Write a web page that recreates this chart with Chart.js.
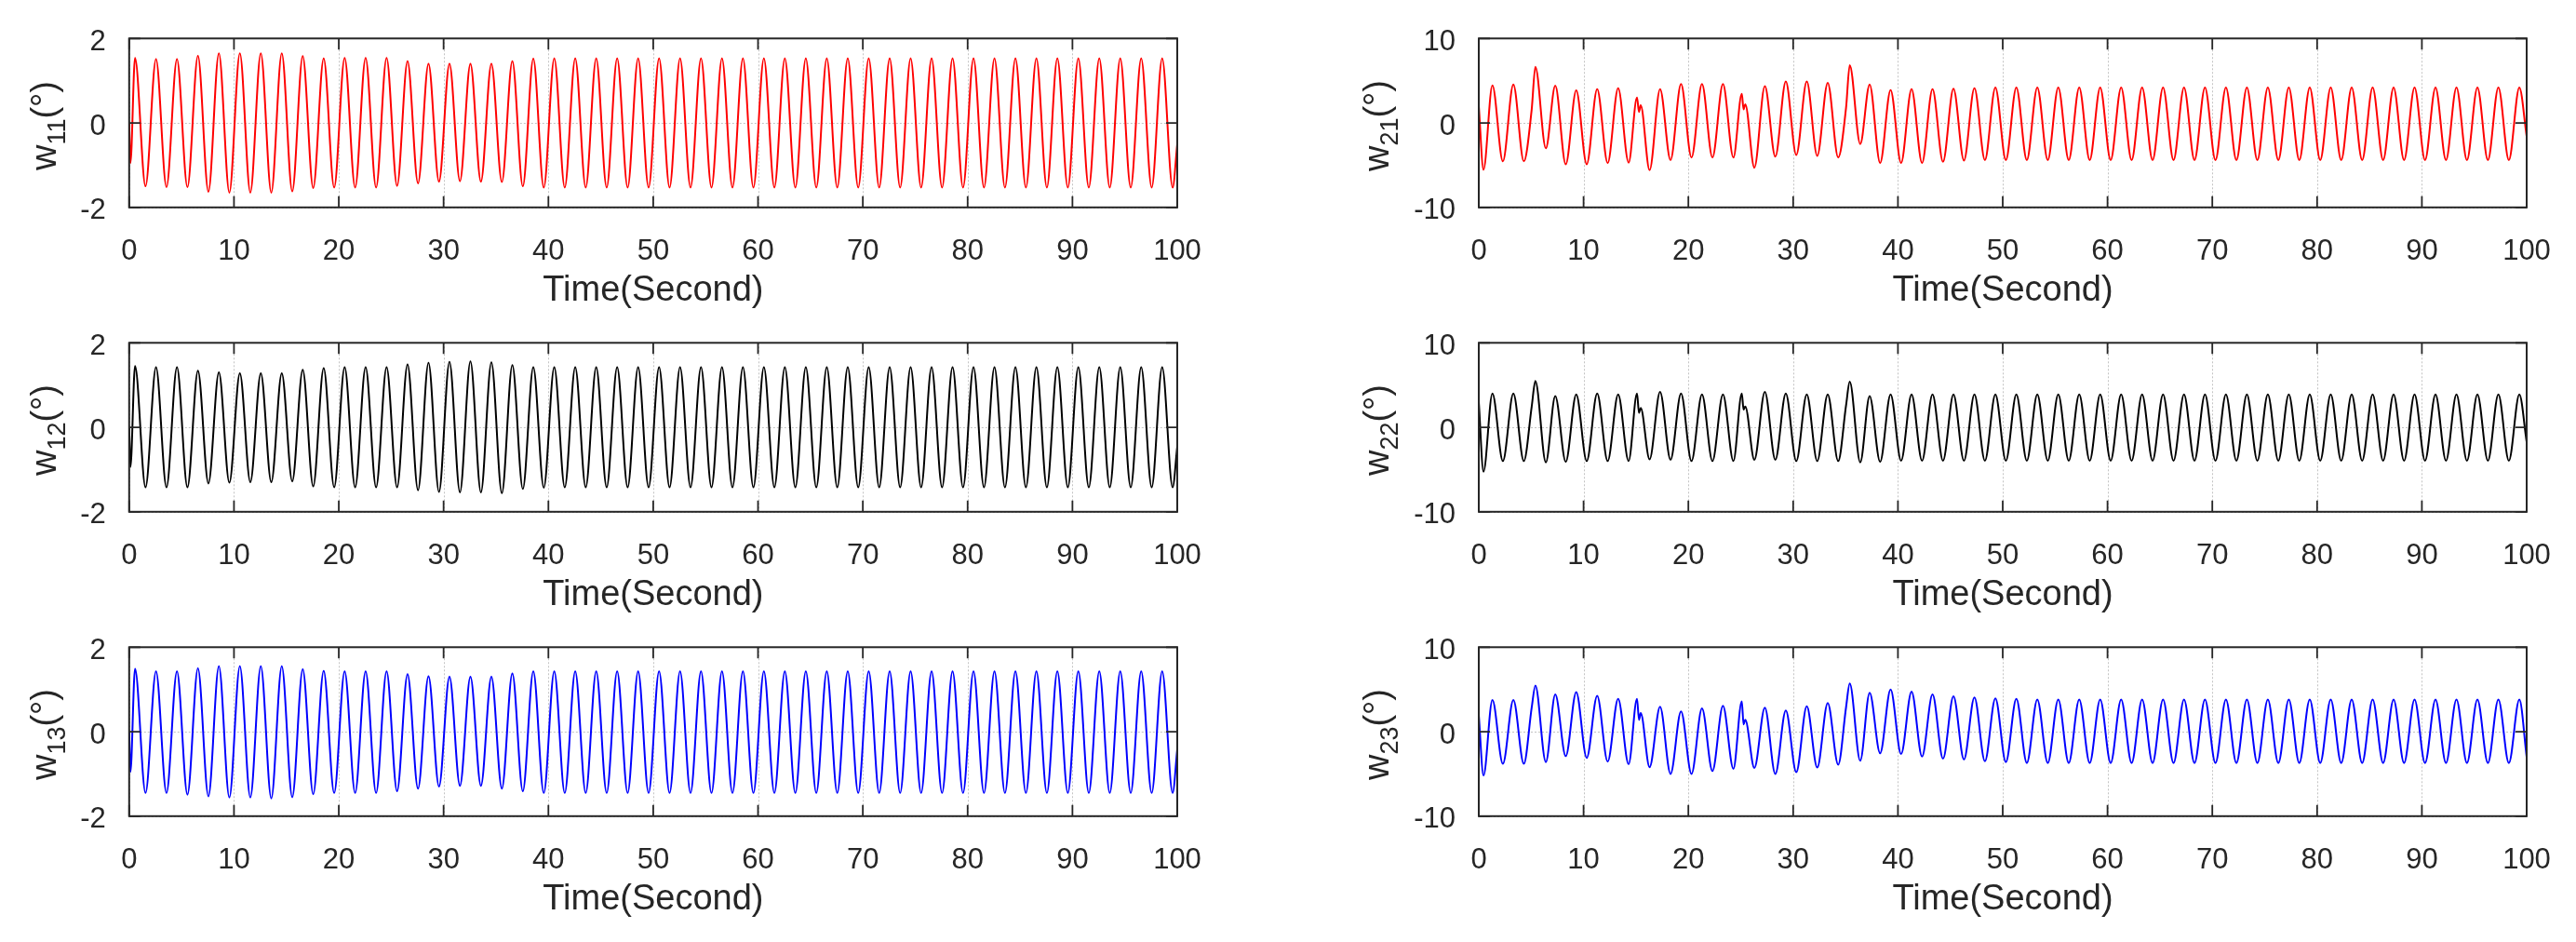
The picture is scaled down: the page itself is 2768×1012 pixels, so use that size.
<!DOCTYPE html>
<html>
<head>
<meta charset="utf-8">
<script src="https://cdn.jsdelivr.net/npm/chart.js@4.4.1/dist/chart.umd.min.js"></script>
<style>
html, body { margin: 0; padding: 0; background: #fff; overflow: hidden; }
body { width: 2768px; height: 1012px; position: relative; }
canvas { position: absolute; }
</style>
</head>
<body>
<canvas id="c11" width="1330" height="356" style="left:0px;top:0px"></canvas>
<canvas id="c12" width="1330" height="356" style="left:0px;top:327px"></canvas>
<canvas id="c13" width="1330" height="356" style="left:0px;top:654px"></canvas>
<canvas id="c21" width="1368" height="356" style="left:1400px;top:0px"></canvas>
<canvas id="c22" width="1368" height="356" style="left:1400px;top:327px"></canvas>
<canvas id="c23" width="1368" height="356" style="left:1400px;top:654px"></canvas>
<script>
// extremum times (s), left column: start, dip, then peak/trough pairs
const leftTime = [0, 0.12,
    0.56, 1.56, 2.56, 3.56, 4.56, 5.56, 6.56, 7.56, 8.56, 9.56,
    10.56, 11.56, 12.56, 13.56, 14.56, 15.56, 16.56, 17.56, 18.56, 19.56,
    20.56, 21.56, 22.56, 23.56, 24.56, 25.56, 26.56, 27.56, 28.56, 29.56,
    30.56, 31.56, 32.56, 33.56, 34.56, 35.56, 36.56, 37.56, 38.56, 39.56,
    40.56, 41.56, 42.56, 43.56, 44.56, 45.56, 46.56, 47.56, 48.56, 49.56,
    50.56, 51.56, 52.56, 53.56, 54.56, 55.56, 56.56, 57.56, 58.56, 59.56,
    60.56, 61.56, 62.56, 63.56, 64.56, 65.56, 66.56, 67.56, 68.56, 69.56,
    70.56, 71.56, 72.56, 73.56, 74.56, 75.56, 76.56, 77.56, 78.56, 79.56,
    80.56, 81.56, 82.56, 83.56, 84.56, 85.56, 86.56, 87.56, 88.56, 89.56,
    90.56, 91.56, 92.56, 93.56, 94.56, 95.56, 96.56, 97.56, 98.56, 99.56,
    100];

const w11 = [0, -0.95,
    1.54, -1.50, 1.51, -1.52, 1.51, -1.52, 1.59, -1.63, 1.65, -1.65,
    1.65, -1.65, 1.65, -1.65, 1.65, -1.62, 1.58, -1.54, 1.53, -1.53,
    1.54, -1.53, 1.54, -1.53, 1.54, -1.49, 1.46, -1.43, 1.40, -1.39,
    1.40, -1.38, 1.40, -1.39, 1.40, -1.40, 1.46, -1.50, 1.52, -1.53,
    1.53, -1.53, 1.53, -1.53, 1.53, -1.53, 1.53, -1.53, 1.53, -1.53,
    1.53, -1.53, 1.53, -1.53, 1.53, -1.53, 1.53, -1.53, 1.53, -1.53,
    1.53, -1.53, 1.53, -1.53, 1.53, -1.53, 1.53, -1.53, 1.53, -1.53,
    1.53, -1.53, 1.53, -1.53, 1.53, -1.53, 1.53, -1.53, 1.53, -1.53,
    1.53, -1.53, 1.53, -1.53, 1.53, -1.53, 1.53, -1.53, 1.53, -1.53,
    1.53, -1.53, 1.53, -1.53, 1.53, -1.53, 1.53, -1.53, 1.53, -1.53,
    -0.50];

const w12 = [0, -0.94,
    1.45, -1.42, 1.42, -1.42, 1.42, -1.42, 1.34, -1.33, 1.30, -1.31,
    1.28, -1.30, 1.28, -1.30, 1.28, -1.28, 1.36, -1.40, 1.40, -1.42,
    1.42, -1.42, 1.42, -1.42, 1.42, -1.42, 1.49, -1.49, 1.53, -1.53,
    1.55, -1.54, 1.56, -1.54, 1.54, -1.56, 1.47, -1.46, 1.42, -1.43,
    1.42, -1.42, 1.42, -1.42, 1.42, -1.42, 1.42, -1.42, 1.42, -1.42,
    1.42, -1.42, 1.42, -1.42, 1.42, -1.42, 1.42, -1.42, 1.42, -1.42,
    1.42, -1.42, 1.42, -1.42, 1.42, -1.42, 1.42, -1.42, 1.42, -1.42,
    1.42, -1.42, 1.42, -1.42, 1.42, -1.42, 1.42, -1.42, 1.42, -1.42,
    1.42, -1.42, 1.42, -1.42, 1.42, -1.42, 1.42, -1.42, 1.42, -1.42,
    1.42, -1.42, 1.42, -1.42, 1.42, -1.42, 1.42, -1.42, 1.42, -1.42,
    -0.46];

const w13 = [0, -0.95,
    1.49, -1.45, 1.43, -1.45, 1.43, -1.49, 1.50, -1.53, 1.55, -1.56,
    1.55, -1.56, 1.55, -1.58, 1.55, -1.55, 1.48, -1.48, 1.44, -1.45,
    1.43, -1.45, 1.43, -1.45, 1.43, -1.41, 1.36, -1.35, 1.31, -1.30,
    1.30, -1.28, 1.30, -1.28, 1.30, -1.35, 1.38, -1.41, 1.43, -1.45,
    1.43, -1.45, 1.43, -1.45, 1.43, -1.45, 1.43, -1.45, 1.43, -1.45,
    1.43, -1.45, 1.43, -1.45, 1.43, -1.45, 1.43, -1.45, 1.43, -1.45,
    1.43, -1.45, 1.43, -1.45, 1.43, -1.45, 1.43, -1.45, 1.43, -1.45,
    1.43, -1.45, 1.43, -1.45, 1.43, -1.45, 1.43, -1.45, 1.43, -1.45,
    1.43, -1.45, 1.43, -1.45, 1.43, -1.45, 1.43, -1.45, 1.43, -1.45,
    1.43, -1.45, 1.43, -1.45, 1.43, -1.45, 1.43, -1.45, 1.43, -1.45,
    -0.42];

// extremum times (s), right column, with the kinks near 5, 15, 25, 35 s
const rightTime = [
    0, 0.45, 1.3, 2.3, 3.3, 4.3, 5.05, 5.4, 6.4, 7.3, 8.3, 9.3,
    10.3, 11.3, 12.3, 13.3, 14.3, 15.1, 15.29, 15.45, 16.3, 17.3, 18.3, 19.3,
    20.3, 21.3, 22.3, 23.3, 24.3, 25.1, 25.27, 25.43, 26.3, 27.3, 28.3, 29.3,
    30.3, 31.3, 32.3, 33.3, 34.3, 35.05, 35.4, 36.4, 37.3, 38.3, 39.3,
    40.3, 41.3, 42.3, 43.3, 44.3, 45.3, 46.3, 47.3, 48.3, 49.3,
    50.3, 51.3, 52.3, 53.3, 54.3, 55.3, 56.3, 57.3, 58.3, 59.3,
    60.3, 61.3, 62.3, 63.3, 64.3, 65.3, 66.3, 67.3, 68.3, 69.3,
    70.3, 71.3, 72.3, 73.3, 74.3, 75.3, 76.3, 77.3, 78.3, 79.3,
    80.3, 81.3, 82.3, 83.3, 84.3, 85.3, 86.3, 87.3, 88.3, 89.3,
    90.3, 91.3, 92.3, 93.3, 94.3, 95.3, 96.3, 97.3, 98.3, 99.3,
    100];

const w21 = [
    2.0, -5.55, 4.45, -4.55, 4.55, -4.55, 1.6, 6.65, -3.0, 4.4, -4.9, 3.85,
    -4.9, 4.0, -4.75, 4.1, -4.7, 3.0, 1.3, 2.1, -5.6, 4.0, -4.4, 4.6,
    -4.1, 4.6, -4.1, 4.6, -4.1, 3.45, 1.6, 2.2, -5.3, 4.35, -4.0, 4.9,
    -3.8, 4.9, -3.9, 4.75, -4.1, 1.8, 6.85, -2.5, 4.55, -4.75, 3.9,
    -4.75, 4.0, -4.75, 4.0, -4.6, 4.05, -4.45, 4.1, -4.4, 4.2,
    -4.4, 4.2, -4.4, 4.2, -4.4, 4.2, -4.4, 4.2, -4.4, 4.2,
    -4.4, 4.2, -4.4, 4.2, -4.4, 4.2, -4.4, 4.2, -4.4, 4.2,
    -4.4, 4.2, -4.4, 4.2, -4.4, 4.2, -4.4, 4.2, -4.4, 4.2,
    -4.4, 4.2, -4.4, 4.2, -4.4, 4.2, -4.4, 4.2, -4.4, 4.2,
    -4.4, 4.2, -4.4, 4.2, -4.4, 4.2, -4.4, 4.2, -4.4, 4.2,
    -1.6];

const w22 = [
    3.0, -5.25, 4.0, -4.0, 4.0, -4.0, 2.45, 5.5, -4.15, 3.7, -4.1, 3.9,
    -4.0, 4.0, -4.0, 3.9, -4.0, 4.0, 1.7, 2.3, -3.8, 4.2, -3.85, 4.0,
    -4.0, 3.9, -4.0, 3.9, -4.0, 4.0, 2.1, 2.45, -3.85, 4.2, -3.85, 4.0,
    -4.0, 3.9, -4.0, 3.9, -4.0, 2.6, 5.4, -4.15, 3.7, -4.1, 3.9,
    -3.95, 3.9, -3.95, 3.9, -3.95, 3.9, -3.95, 3.9, -3.95, 3.9,
    -3.95, 3.9, -3.95, 3.9, -3.95, 3.9, -3.95, 3.9, -3.95, 3.9,
    -3.95, 3.9, -3.95, 3.9, -3.95, 3.9, -3.95, 3.9, -3.95, 3.9,
    -3.95, 3.9, -3.95, 3.9, -3.95, 3.9, -3.95, 3.9, -3.95, 3.9,
    -3.95, 3.9, -3.95, 3.9, -3.95, 3.9, -3.95, 3.9, -3.95, 3.9,
    -3.95, 3.9, -3.95, 3.9, -3.95, 3.9, -3.95, 3.9, -3.95, 3.9,
    -1.75];

const w23 = [
    1.95, -5.2, 3.75, -3.8, 3.75, -3.8, 2.85, 5.45, -3.6, 4.4, -2.9, 4.7,
    -3.1, 4.25, -3.55, 3.9, -3.85, 3.9, 1.4, 2.2, -4.2, 2.95, -5.0, 2.4,
    -5.0, 2.75, -4.65, 3.05, -4.4, 3.6, 0.85, 1.4, -4.3, 2.85, -5.0, 2.5,
    -4.8, 3.0, -4.25, 3.4, -3.9, 2.9, 5.7, -3.45, 4.6, -2.55, 5.0,
    -2.65, 4.75, -2.95, 4.4, -3.2, 4.2, -3.3, 4.05, -3.5, 3.95,
    -3.6, 3.9, -3.7, 3.8, -3.7, 3.8, -3.7, 3.8, -3.7, 3.8,
    -3.7, 3.8, -3.7, 3.8, -3.7, 3.8, -3.7, 3.8, -3.7, 3.8,
    -3.7, 3.8, -3.7, 3.8, -3.7, 3.8, -3.7, 3.8, -3.7, 3.8,
    -3.7, 3.8, -3.7, 3.8, -3.7, 3.8, -3.7, 3.8, -3.7, 3.8,
    -3.7, 3.8, -3.7, 3.8, -3.7, 3.8, -3.7, 3.8, -3.7, 3.8,
    -3.0];

const xTitle = "Time(Second)";
const FONT = '"Liberation Sans", Arial, Helvetica, sans-serif';
const TXT = "#262626";

function toPoints(times, values) {
    if (times.length !== values.length) console.error("length mismatch", times.length, values.length);
    return times.map((t, i) => ({ x: t, y: values[i] }));
}

// MATLAB-like box: dotted grid, frame and inward ticks on all four sides
const framePlugin = {
    id: "frame",
    beforeDatasetsDraw(chart) {
        const { ctx, chartArea: a, scales: { x, y } } = chart;
        ctx.save();
        ctx.strokeStyle = "rgba(38,38,38,0.28)";
        ctx.lineWidth = 1;
        ctx.setLineDash([2, 2]);
        ctx.beginPath();
        x.ticks.forEach((t) => {
            const px = Math.round(x.getPixelForValue(t.value)) + 0.5;
            ctx.moveTo(px, a.top);
            ctx.lineTo(px, a.bottom);
        });
        y.ticks.forEach((t) => {
            const py = Math.round(y.getPixelForValue(t.value)) + 0.5;
            ctx.moveTo(a.left, py);
            ctx.lineTo(a.right, py);
        });
        ctx.stroke();
        ctx.restore();
    },
    afterDatasetsDraw(chart) {
        const { ctx, chartArea: a, scales: { x, y } } = chart;
        const len = 12;
        ctx.save();
        ctx.strokeStyle = TXT;
        ctx.lineWidth = 1.8;
        ctx.beginPath();
        x.ticks.forEach((t) => {
            const px = x.getPixelForValue(t.value);
            ctx.moveTo(px, a.bottom);
            ctx.lineTo(px, a.bottom - len);
            ctx.moveTo(px, a.top);
            ctx.lineTo(px, a.top + len);
        });
        y.ticks.forEach((t) => {
            const py = y.getPixelForValue(t.value);
            ctx.moveTo(a.left, py);
            ctx.lineTo(a.left + len, py);
            ctx.moveTo(a.right, py);
            ctx.lineTo(a.right - len, py);
        });
        ctx.stroke();
        ctx.lineWidth = 2;
        ctx.strokeRect(a.left, a.top, a.width, a.height);
        ctx.restore();
    },
};

// rotated y title with subscript, e.g. w_11(°)
const yLabelPlugin = {
    id: "yLabel",
    afterDraw(chart, args, opts) {
        const { ctx, chartArea: a } = chart;
        const big = 38, small = 27;
        ctx.save();
        ctx.fillStyle = TXT;
        ctx.translate(a.left - opts.gap, (a.top + a.bottom) / 2 + 3);
        ctx.rotate(-Math.PI / 2);
        ctx.textBaseline = "alphabetic";
        ctx.font = big + "px " + FONT;
        const w1 = ctx.measureText(opts.base).width;
        const w3 = ctx.measureText("(°)").width;
        ctx.font = small + "px " + FONT;
        const w2 = ctx.measureText(opts.sub).width;
        let x = -(w1 + w2 + w3) / 2;
        ctx.font = big + "px " + FONT;
        ctx.fillText(opts.base, x, 0);
        x += w1;
        ctx.font = small + "px " + FONT;
        ctx.fillText(opts.sub, x, 10);
        x += w2;
        ctx.font = big + "px " + FONT;
        ctx.fillText("(°)", x, 0);
        ctx.restore();
    },
};

function makeChart(id, times, values, color, yLim, yStep, sub, col) {
    const yWidth = col === 0 ? 138.8 : 189;
    const padRight = col === 0 ? 65 : 53;
    const gap = col === 0 ? 79 : 97;
    return new Chart(document.getElementById(id), {
        type: "line",
        data: {
            datasets: [{
                data: toPoints(times, values),
                borderColor: color,
                borderWidth: 2,
                pointRadius: 0,
                fill: false,
                cubicInterpolationMode: "monotone",
            }],
        },
        options: {
            responsive: false,
            animation: false,
            devicePixelRatio: 1,
            layout: { padding: { top: 41.3, right: padRight, left: 0, bottom: 0 } },
            plugins: {
                legend: { display: false },
                tooltip: { enabled: false },
                yLabel: { base: "w", sub: sub, gap: gap },
            },
            scales: {
                x: {
                    type: "linear",
                    min: 0,
                    max: 100,
                    grid: { display: false },
                    border: { display: false },
                    ticks: {
                        stepSize: 10,
                        padding: 21,
                        maxRotation: 0,
                        autoSkip: false,
                        color: TXT,
                        font: { family: FONT, size: 31 },
                    },
                    title: {
                        display: true,
                        text: xTitle,
                        color: TXT,
                        font: { family: FONT, size: 38 },
                        padding: { top: 0, bottom: 20.8 },
                    },
                    afterFit: (s) => { s.height = 133.2; },
                },
                y: {
                    min: -yLim,
                    max: yLim,
                    grid: { display: false },
                    border: { display: false },
                    ticks: {
                        stepSize: yStep,
                        padding: 17,
                        labelOffset: 4,
                        color: TXT,
                        font: { family: FONT, size: 31 },
                    },
                    afterFit: (s) => { s.width = yWidth; },
                },
            },
        },
        plugins: [framePlugin, yLabelPlugin],
    });
}

makeChart("c11", leftTime, w11, "#ff0000", 2, 2, "11", 0);
makeChart("c12", leftTime, w12, "#000000", 2, 2, "12", 0);
makeChart("c13", leftTime, w13, "#0000ff", 2, 2, "13", 0);
makeChart("c21", rightTime, w21, "#ff0000", 10, 10, "21", 1);
makeChart("c22", rightTime, w22, "#000000", 10, 10, "22", 1);
makeChart("c23", rightTime, w23, "#0000ff", 10, 10, "23", 1);
</script>
</body>
</html>
